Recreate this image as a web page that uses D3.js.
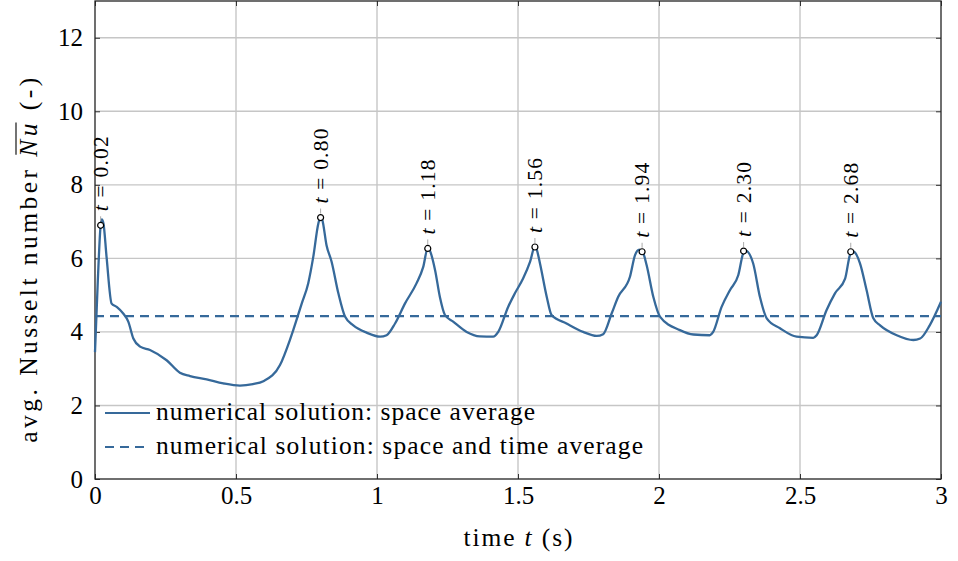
<!DOCTYPE html>
<html>
<head>
<meta charset="utf-8">
<script src="https://cdn.jsdelivr.net/npm/d3@7"></script>
<style>
  body { margin: 0; background: #fff; }
  #chart, #chart text { font-family: "Liberation Serif"; }
</style>
</head>
<body>
<svg id="chart" width="958" height="561" font-family="Liberation Serif"></svg>
<script>
const width = 958, height = 561
const margin = {left: 95, right: 17, top: 1, bottom: 82}
const FONT = "Liberation Serif"

// space averaged Nusselt number over time
const time_s = [0, 0.01, 0.02, 0.024, 0.03, 0.041, 0.059, 0.077, 0.10, 0.118, 0.136, 0.16, 0.195, 0.254, 0.301, 0.337, 0.396, 0.455, 0.514, 0.56, 0.597, 0.656, 0.691, 0.703, 0.733, 0.756, 0.774, 0.792, 0.80, 0.806, 0.821, 0.839, 0.863, 0.887, 0.916, 0.963, 1.011, 1.034, 1.064, 1.099, 1.14, 1.164, 1.18, 1.185, 1.206, 1.223, 1.241, 1.27, 1.318, 1.365, 1.412, 1.43, 1.465, 1.489, 1.518, 1.543, 1.56, 1.566, 1.578, 1.602, 1.619, 1.672, 1.731, 1.779, 1.802, 1.832, 1.855, 1.897, 1.915, 1.93, 1.942, 1.956, 1.98, 2.004, 2.074, 2.122, 2.18, 2.192, 2.222, 2.252, 2.281, 2.299, 2.306, 2.334, 2.358, 2.382, 2.429, 2.488, 2.547, 2.559, 2.594, 2.624, 2.66, 2.677, 2.683, 2.69, 2.713, 2.736, 2.76, 2.784, 2.843, 2.902, 2.926, 2.96, 3.0]
const nusselt = [3.45, 5.4, 6.9, 7.06, 6.95, 6.04, 4.77, 4.68, 4.50, 4.28, 3.82, 3.60, 3.51, 3.23, 2.89, 2.80, 2.71, 2.60, 2.54, 2.58, 2.66, 3.10, 3.78, 4.05, 4.77, 5.32, 6.04, 6.95, 7.13, 7.05, 6.36, 5.91, 5.05, 4.41, 4.18, 3.98, 3.87, 3.91, 4.23, 4.77, 5.32, 5.77, 6.28, 6.25, 5.68, 4.95, 4.46, 4.28, 4.0, 3.88, 3.87, 4.0, 4.68, 5.05, 5.45, 5.91, 6.33, 6.25, 5.86, 4.95, 4.46, 4.23, 4.0, 3.89, 3.94, 4.50, 4.95, 5.5, 6.09, 6.24, 6.18, 5.82, 4.95, 4.41, 4.05, 3.93, 3.91, 4.0, 4.68, 5.14, 5.54, 6.15, 6.22, 5.86, 4.95, 4.37, 4.10, 3.87, 3.84, 3.91, 4.59, 5.05, 5.45, 6.09, 6.18, 6.18, 5.86, 5.14, 4.37, 4.18, 3.91, 3.78, 3.82, 4.18, 4.82]
// space and time average
const nu_mean = 4.43
// marked peaks
const peak_t = [0.02, 0.80, 1.18, 1.56, 1.94, 2.30, 2.68]
const peak_nu = [6.9, 7.11, 6.27, 6.31, 6.18, 6.20, 6.18]
const peak_labels = ["0.02", "0.80", "1.18", "1.56", "1.94", "2.30", "2.68"]

const x_ticks = [0, 0.5, 1, 1.5, 2, 2.5, 3]
const x_tick_labels = ["0", "0.5", "1", "1.5", "2", "2.5", "3"]
const y_ticks = [0, 2, 4, 6, 8, 10, 12]

const legend_labels = ["numerical solution: space average", "numerical solution: space and time average"]

const LINE_COLOR = "#36699a"
const GRID_COLOR = "#c6c6c6"

const svg = d3.select("#chart")

const x = d3.scaleLinear().domain([0, 3]).range([margin.left, width - margin.right])
const y = d3.scaleLinear().domain([0, 13]).range([height - margin.bottom, margin.top])

// grid
svg.append("g").selectAll("line")
    .data(x_ticks.slice(1, -1))
    .join("line")
    .attr("x1", d => x(d)).attr("x2", d => x(d))
    .attr("y1", y(0)).attr("y2", y(13))
    .attr("stroke", GRID_COLOR).attr("stroke-width", 1.4)
svg.append("g").selectAll("line")
    .data(y_ticks.slice(1))
    .join("line")
    .attr("x1", x(0)).attr("x2", x(3))
    .attr("y1", d => y(d)).attr("y2", d => y(d))
    .attr("stroke", GRID_COLOR).attr("stroke-width", 1.4)

// axes with inward ticks
const bottomAxis = d3.axisBottom(x).tickValues(x_ticks).tickSize(-5).tickPadding(7)
    .tickFormat((d, i) => x_tick_labels[i])
const leftAxis = d3.axisLeft(y).tickValues(y_ticks).tickSize(-5).tickPadding(12)
svg.append("g").attr("transform", `translate(0,${y(0)})`).call(bottomAxis)
    .attr("font-family", FONT).attr("font-size", 25)
    .call(g => g.select(".domain").remove())
svg.append("g").attr("transform", `translate(${x(0)},0)`).call(leftAxis)
    .attr("font-family", FONT).attr("font-size", 25)
    .call(g => g.select(".domain").remove())
svg.append("g").attr("transform", `translate(0,${y(13)})`)
    .call(d3.axisTop(x).tickValues(x_ticks).tickSize(-5).tickFormat(""))
    .call(g => g.select(".domain").remove())
svg.append("g").attr("transform", `translate(${x(3)},0)`)
    .call(d3.axisRight(y).tickValues(y_ticks).tickSize(-5).tickFormat(""))
    .call(g => g.select(".domain").remove())
svg.selectAll(".tick line").attr("stroke", "#333").attr("stroke-width", 1)
svg.selectAll(".tick text").attr("fill", "#000").attr("font-family", FONT)

// frame
svg.append("rect")
    .attr("x", x(0)).attr("y", y(13))
    .attr("width", x(3) - x(0)).attr("height", y(0) - y(13))
    .attr("fill", "none").attr("stroke", "#222").attr("stroke-width", 1.3)

// mean line
svg.append("line")
    .attr("x1", x(0)).attr("x2", x(3))
    .attr("y1", y(nu_mean)).attr("y2", y(nu_mean))
    .attr("stroke", LINE_COLOR).attr("stroke-width", 2.2)
    .attr("stroke-dasharray", "9,6")

// space average curve
const series = time_s.map((t, i) => [t, nusselt[i]])
const line = d3.line().x(d => x(d[0])).y(d => y(d[1])).curve(d3.curveMonotoneX)
svg.append("path")
    .datum(series)
    .attr("d", line)
    .attr("fill", "none")
    .attr("stroke", LINE_COLOR)
    .attr("stroke-width", 2.3)
    .attr("stroke-linejoin", "round")

// peak markers + labels
const peaks = peak_t.map((t, i) => ({t, nu: peak_nu[i], label: peak_labels[i]}))
const pk = svg.append("g").selectAll("g").data(peaks).join("g")
    .attr("transform", d => `translate(${x(d.t)},${y(d.nu)})`)
pk.append("line")
    .attr("x1", 0).attr("x2", 0).attr("y1", -4).attr("y2", -9)
    .attr("stroke", "#aaa").attr("stroke-width", 1)
pk.append("circle")
    .attr("r", 3).attr("fill", "#fff").attr("stroke", "#000").attr("stroke-width", 1.2)
const pkText = pk.append("text")
    .attr("transform", "translate(7,-14) rotate(-90)")
    .attr("font-family", FONT)
    .attr("font-size", 21.5)
    .attr("textLength", 75)
    .attr("lengthAdjust", "spacing")
pkText.append("tspan").attr("font-style", "italic").text("t")
pkText.append("tspan").text(d => " = " + d.label)

// legend
const legend = svg.append("g")
legend_labels.forEach((lab, i) => {
    const ly = 413 + i * 34
    legend.append("line")
        .attr("x1", 105).attr("x2", 150).attr("y1", ly).attr("y2", ly)
        .attr("stroke", LINE_COLOR).attr("stroke-width", 2.2)
        .attr("stroke-dasharray", i === 1 ? "9,6" : null)
    legend.append("text")
        .attr("x", 156).attr("y", ly + 7)
        .attr("textLength", i === 0 ? 379 : 487)
        .attr("lengthAdjust", "spacing")
        .attr("font-family", FONT)
        .attr("font-size", 25.5)
        .text(lab)
})

// x label
const xl = svg.append("text")
    .attr("x", x(1.5)).attr("y", 546)
    .attr("text-anchor", "middle")
    .attr("textLength", 109)
    .attr("font-family", FONT)
    .attr("font-size", 25.5)
xl.append("tspan").text("time ")
xl.append("tspan").attr("font-style", "italic").text("t")
xl.append("tspan").text(" (s)")

// y label, with a bar over Nu
const ylg = svg.append("g").attr("transform", `translate(37,${y(5.95)}) rotate(-90)`)
const yl = ylg.append("text")
    .attr("text-anchor", "middle")
    .attr("textLength", 365)
    .attr("font-family", FONT)
    .attr("font-size", 25.5)
yl.append("tspan").text("avg. Nusselt number ")
yl.append("tspan").attr("font-style", "italic").text("Nu")
yl.append("tspan").text(" (-)")
const node = yl.node()
const barStart = node.getStartPositionOfChar(20).x + 2
const barEnd = node.getEndPositionOfChar(21).x + 1
ylg.append("line")
    .attr("x1", barStart).attr("x2", barEnd)
    .attr("y1", -21).attr("y2", -21)
    .attr("stroke", "#000").attr("stroke-width", 1.1)
</script>
</body>
</html>
